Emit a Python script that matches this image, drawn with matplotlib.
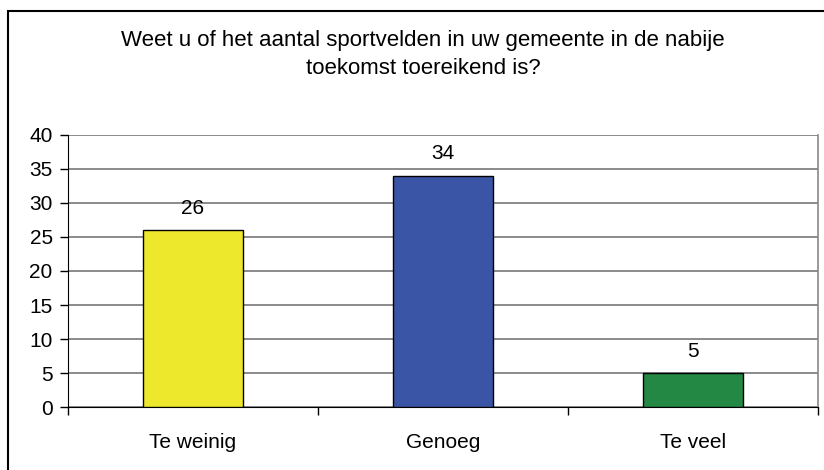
import matplotlib
matplotlib.use("Agg")
import matplotlib.pyplot as plt
from matplotlib.patches import Rectangle

categories = ["Te weinig", "Genoeg", "Te veel"]
values = [26, 34, 5]
colors = ["#EEE82C", "#3A55A6", "#228844"]
yticks = [0, 5, 10, 15, 20, 25, 30, 35, 40]
title_lines = ["Weet u of het aantal sportvelden in uw gemeente in de nabije",
               "toekomst toereikend is?"]

plt.rcParams['font.family'] = ['Liberation Sans', 'DejaVu Sans']

W, H = 824, 470
fig = plt.figure(figsize=(W/100, H/100), dpi=100)
fig.patch.set_facecolor("white")

# outer frame
fig.patches.append(Rectangle((8/W, -0.2), 1.2, (H-11)/H + 0.2, transform=fig.transFigure,
                             fill=False, edgecolor="black", linewidth=1.5))

for i, line in enumerate(title_lines):
    fig.text(423/W, 1 - (46 + 28.5*i)/H, line, ha="center", va="baseline", fontsize=16)

ax = fig.add_axes([68/W, 1 - 407.3/H, 750/W, (407.3 - 134.7)/H])
x = list(range(len(categories)))
bars = ax.bar(x, values, width=0.4, color=colors, edgecolor="black", linewidth=1, zorder=3)
for xi, v in zip(x, values):
    ax.text(xi, v + 2.4, str(v), ha="center", va="baseline", fontsize=15)

ax.set_xlim(-0.5, len(categories) - 0.5)
ax.set_ylim(0, 40)
ax.set_yticks(yticks)
ax.set_yticklabels([str(t) for t in yticks], fontsize=15)
ax.set_xticks(x)
ax.set_xticklabels(categories, fontsize=15)
for lab in ax.get_xticklabels():
    lab.set_va("baseline")
ax.tick_params(axis="x", length=0, pad=29)
ax.set_xticks([i - 0.5 for i in range(len(categories) + 1)], minor=True)
ax.tick_params(axis="x", which="minor", length=6, direction="out", width=1, color="black")
ax.tick_params(axis="y", length=6, direction="out", width=1, pad=5)
ax.yaxis.grid(True, color="#777777", linewidth=1.2, zorder=0)
ax.set_axisbelow(True)

ax.spines["top"].set_visible(False)
ax.spines["right"].set_color("#888888")
ax.spines["right"].set_linewidth(1.2)
ax.spines["left"].set_color("black")
ax.spines["bottom"].set_color("black")

fig.savefig("out.png", dpi=100)
